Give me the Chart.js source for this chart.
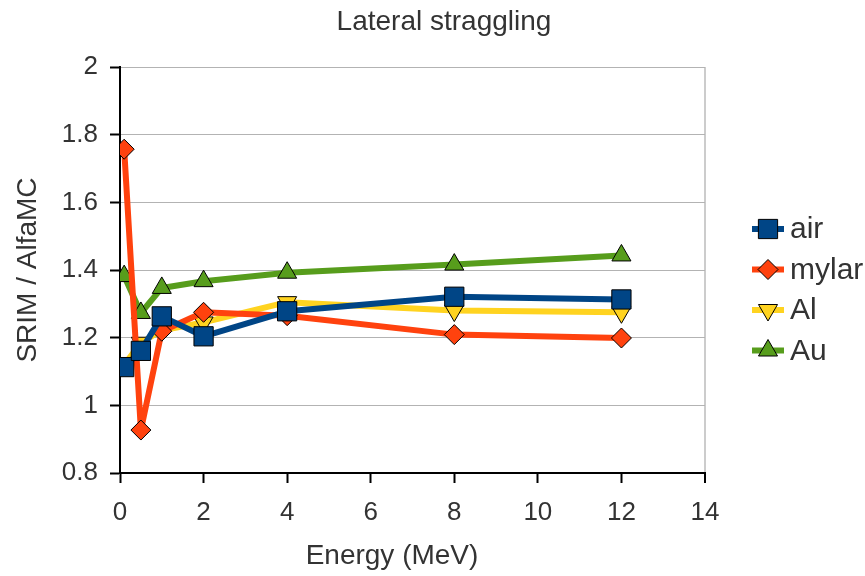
<!DOCTYPE html>
<html>
    <head>
        <meta charset="UTF-8" />
        <title> Lateral straggling </title>
        <style type="text/css">
            body { margin: 0; background: #fff; }
        </style>
    </head>
    <body>
        <canvas id="myChart" width="865" height="576"></canvas>

        <script src="https://cdn.jsdelivr.net/npm/chart.js"></script>
        <script>
        //data
        const energy = [0.1, 0.5, 1, 2, 4, 8, 12];
        const air = [1.113, 1.161, 1.263, 1.204, 1.278, 1.321, 1.313];
        const mylar = [1.757, 0.927, 1.219, 1.275, 1.265, 1.209, 1.199];
        const al = [1.12, 1.185, 1.222, 1.245, 1.305, 1.28, 1.275];
        const au = [1.382, 1.273, 1.347, 1.367, 1.392, 1.416, 1.443];
        const seriesNames = ['air', 'mylar', 'Al', 'Au'];
        const yTicks = [0.8, 1, 1.2, 1.4, 1.6, 1.8, 2];
        const xTicks = [0, 2, 4, 6, 8, 10, 12, 14];

        const textColor = '#333';
        Chart.defaults.font.family = "'Liberation Sans', Arial, sans-serif";
        Chart.defaults.color = textColor;

        function toPoints(ys) {
            return ys.map((y, i) => ({x: energy[i], y: y}));
        }

        function series(label, ys, color, style, radius, rotation) {
            return {
                label: label,
                data: toPoints(ys),
                borderColor: color,
                backgroundColor: color,
                borderWidth: 6,
                borderJoinStyle: 'round',
                borderCapStyle: 'round',
                pointStyle: style,
                pointRadius: radius,
                pointHoverRadius: radius,
                pointRotation: rotation,
                pointBackgroundColor: color,
                pointBorderColor: '#000',
                pointBorderWidth: 1,
                tension: 0
            };
        }

        const data = {
            datasets: [
                series(seriesNames[0], air, '#004586', 'rect', 13.6, 0),
                series(seriesNames[1], mylar, '#ff420e', 'rectRot', 10, 0),
                series(seriesNames[2], al, '#ffd320', 'triangle', 11, 180),
                series(seriesNames[3], au, '#579d1c', 'triangle', 11, 0)
            ]
        };

        //title, x title and legend drawn on the canvas
        const extras = {
            id: 'extras',
            afterDraw(chart) {
                const ctx = chart.ctx;
                ctx.save();
                ctx.fillStyle = textColor;
                ctx.textBaseline = 'middle';
                ctx.textAlign = 'center';
                ctx.font = "28px 'Liberation Sans', Arial, sans-serif";
                ctx.fillText('Lateral straggling', 444, 22);
                ctx.fillText('Energy (MeV)', 392, 556);

                ctx.textAlign = 'left';
                ctx.font = "30px 'Liberation Sans', Arial, sans-serif";
                chart.data.datasets.forEach((ds, i) => {
                    const y = 229 + i * 40.5;
                    ctx.strokeStyle = ds.borderColor;
                    ctx.lineWidth = 6;
                    ctx.beginPath();
                    ctx.moveTo(752, y);
                    ctx.lineTo(784, y);
                    ctx.stroke();
                    ctx.fillStyle = ds.pointBackgroundColor;
                    ctx.strokeStyle = '#000';
                    ctx.lineWidth = 1;
                    Chart.helpers.drawPoint(ctx, {
                        pointStyle: ds.pointStyle,
                        radius: ds.pointRadius,
                        rotation: ds.pointRotation,
                        borderWidth: 1
                    }, 768, y);
                    ctx.fillStyle = textColor;
                    ctx.fillText(ds.label, 790, y + 1);
                });
                ctx.restore();
            }
        };

        //config
        const config = {
            type: 'line',
            data,
            options: {
                responsive: false,
                animation: false,
                devicePixelRatio: 1,
                layout: { padding: { top: 67, right: 160, left: 0, bottom: 0 } },
                plugins: {
                    legend: { display: false },
                    title: { display: false },
                    tooltip: { enabled: false }
                },
                scales: {
                    x: {
                        type: 'linear',
                        min: 0,
                        max: 14,
                        afterFit: (scale) => { scale.height = 103; },
                        afterBuildTicks: (scale) => { scale.ticks = xTicks.map(v => ({value: v})); },
                        ticks: {
                            font: { size: 26 },
                            color: textColor,
                            padding: 14,
                            maxRotation: 0
                        },
                        grid: {
                            // only the right edge of the plot gets a light frame line
                            color: (c) => c.index === xTicks.length - 1 ? '#cccccc' : 'rgba(0,0,0,0)',
                            lineWidth: (c) => c.index === xTicks.length - 1 ? 2 : 1,
                            tickColor: '#000',
                            tickWidth: 2,
                            tickLength: 10
                        },
                        border: { display: true, color: '#000', width: 2 }
                    },
                    y: {
                        min: 0.8,
                        max: 2,
                        afterFit: (scale) => { scale.width = 120; },
                        afterBuildTicks: (scale) => { scale.ticks = yTicks.map(v => ({value: v})); },
                        ticks: {
                            font: { size: 26 },
                            color: textColor,
                            padding: 12,
                            callback: (v) => String(Number(v.toFixed(1)))
                        },
                        grid: {
                            color: '#b3b3b3',
                            lineWidth: 1,
                            tickColor: '#000',
                            tickWidth: 2,
                            tickLength: 10
                        },
                        border: { display: true, color: '#000', width: 2 },
                        title: {
                            display: true,
                            text: 'SRIM / AlfaMC',
                            font: { size: 28 },
                            color: textColor,
                            padding: { top: 11, bottom: 0 }
                        }
                    }
                }
            },
            plugins: [extras]
        };

        //render
        const myChart = new Chart(
            document.getElementById('myChart'),
            config
        );
        </script>
    </body>
</html>
